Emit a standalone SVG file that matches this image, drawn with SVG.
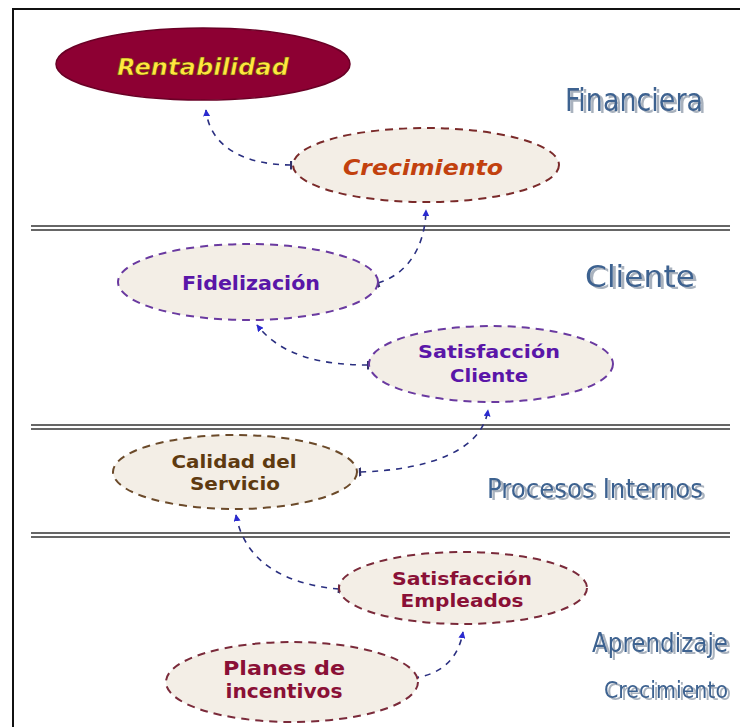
<svg xmlns="http://www.w3.org/2000/svg" width="740" height="727" viewBox="0 0 740 727">
<defs>
<marker id="ah" viewBox="0 0 10 10" refX="9" refY="5" markerWidth="7" markerHeight="7" orient="auto" markerUnits="userSpaceOnUse"><path d="M0,0 L10,5 L0,10 z" fill="#2a2ad0"/></marker>
<marker id="tk" viewBox="0 0 4 12" refX="2" refY="6" markerWidth="3" markerHeight="9" orient="auto" markerUnits="userSpaceOnUse"><path d="M2,0 L2,12" stroke="#30306a" stroke-width="3"/></marker>
<filter id="shadow" x="-5%" y="-20%" width="115%" height="150%"><feDropShadow dx="3" dy="2" stdDeviation="0.6" flood-color="#a9b2be" flood-opacity="1"/></filter>
</defs>
<style>
.sep{stroke:#333;stroke-width:1.6}
.node{fill:#f3eee6;stroke-width:2;stroke-dasharray:8 6}
.lbl{font-family:"DejaVu Sans Condensed","Liberation Sans",sans-serif;fill:#3d6290;filter:url(#shadow)}
.nt{font-family:"DejaVu Sans","Liberation Sans",sans-serif;font-weight:bold;text-anchor:middle}
.con{fill:none;stroke:#2a2f80;stroke-width:1.6;stroke-dasharray:6 6;marker-end:url(#ah);marker-start:url(#tk)}
</style>
<rect x="0" y="0" width="740" height="727" fill="#ffffff"/>
<rect x="13" y="9" width="740" height="740" fill="none" stroke="#111" stroke-width="2"/>
<g id="separators">
<line class="sep" x1="31" y1="226" x2="730" y2="226"/><line class="sep" x1="31" y1="230" x2="730" y2="230"/>
<line class="sep" x1="31" y1="425" x2="730" y2="425"/><line class="sep" x1="31" y1="429" x2="730" y2="429"/>
<line class="sep" x1="31" y1="533" x2="730" y2="533"/><line class="sep" x1="31" y1="537" x2="730" y2="537"/>
</g>
<g id="labels">
<text class="lbl" x="565" y="111" font-size="32" textLength="138" lengthAdjust="spacingAndGlyphs">Financiera</text>
<text class="lbl" x="585" y="287" font-size="30" textLength="110" lengthAdjust="spacingAndGlyphs">Cliente</text>
<text class="lbl" x="487" y="498" font-size="27" textLength="216" lengthAdjust="spacingAndGlyphs">Procesos Internos</text>
<text class="lbl" x="592" y="652" font-size="26" textLength="136" lengthAdjust="spacingAndGlyphs">Aprendizaje</text>
<text class="lbl" x="604" y="698" font-size="23" textLength="124" lengthAdjust="spacingAndGlyphs">Crecimiento</text>
</g>
<g id="connectors">
<path class="con" d="M291,165 C250,165 210,150 206,110"/>
<path class="con" d="M378,283 C405,275 425,250 426,210"/>
<path class="con" d="M368,365 C320,365 280,355 257,325"/>
<path class="con" d="M360,472 C430,470 482,450 488,410"/>
<path class="con" d="M339,589 C290,585 245,565 236,515"/>
<path class="con" d="M413,678 C440,675 458,660 463,632"/>
</g>
<g id="rentabilidad">
<ellipse cx="203" cy="64" rx="147" ry="36" fill="#8d0033" stroke="#6a0026" stroke-width="1.5"/>
<text class="nt" x="203" y="75" font-size="23" font-style="italic" fill="#ffe640" stroke="#5a3a00" stroke-width="0.6" textLength="172" lengthAdjust="spacingAndGlyphs">Rentabilidad</text>
</g>
<g id="crecimiento">
<ellipse class="node" cx="426" cy="165" rx="133" ry="37" stroke="#7a2a2a"/>
<text class="nt" x="423" y="175" font-size="21" font-style="italic" fill="#c2410e" textLength="160" lengthAdjust="spacingAndGlyphs">Crecimiento</text>
</g>
<g id="fidelizacion">
<ellipse class="node" cx="248" cy="282" rx="130" ry="38" stroke="#6a3aa0"/>
<text class="nt" x="251" y="290" font-size="19" fill="#5a16a8" textLength="138" lengthAdjust="spacingAndGlyphs">Fidelización</text>
</g>
<g id="satisfaccion-cliente">
<ellipse class="node" cx="491" cy="364" rx="122" ry="38" stroke="#6a3aa0"/>
<text class="nt" x="489" y="358" font-size="18" fill="#5a16a8" textLength="142" lengthAdjust="spacingAndGlyphs">Satisfacción</text>
<text class="nt" x="489" y="382" font-size="18" fill="#5a16a8" textLength="78" lengthAdjust="spacingAndGlyphs">Cliente</text>
</g>
<g id="calidad-servicio">
<ellipse class="node" cx="235" cy="472" rx="122" ry="37" stroke="#6b4a2a"/>
<text class="nt" x="234" y="468" font-size="18" fill="#5e3a10" textLength="125" lengthAdjust="spacingAndGlyphs">Calidad del</text>
<text class="nt" x="235" y="490" font-size="18" fill="#5e3a10" textLength="90" lengthAdjust="spacingAndGlyphs">Servicio</text>
</g>
<g id="satisfaccion-empleados">
<ellipse class="node" cx="463" cy="588" rx="124" ry="36" stroke="#7a2a3a"/>
<text class="nt" x="462" y="585" font-size="18" fill="#8a1036" textLength="140" lengthAdjust="spacingAndGlyphs">Satisfacción</text>
<text class="nt" x="462" y="607" font-size="18" fill="#8a1036" textLength="123" lengthAdjust="spacingAndGlyphs">Empleados</text>
</g>
<g id="planes-incentivos">
<ellipse class="node" cx="292" cy="682" rx="126" ry="40" stroke="#7a2a3a"/>
<text class="nt" x="284" y="675" font-size="20" fill="#8a1036" textLength="122" lengthAdjust="spacingAndGlyphs">Planes de</text>
<text class="nt" x="284" y="698" font-size="20" fill="#8a1036" textLength="117" lengthAdjust="spacingAndGlyphs">incentivos</text>
</g>
</svg>
